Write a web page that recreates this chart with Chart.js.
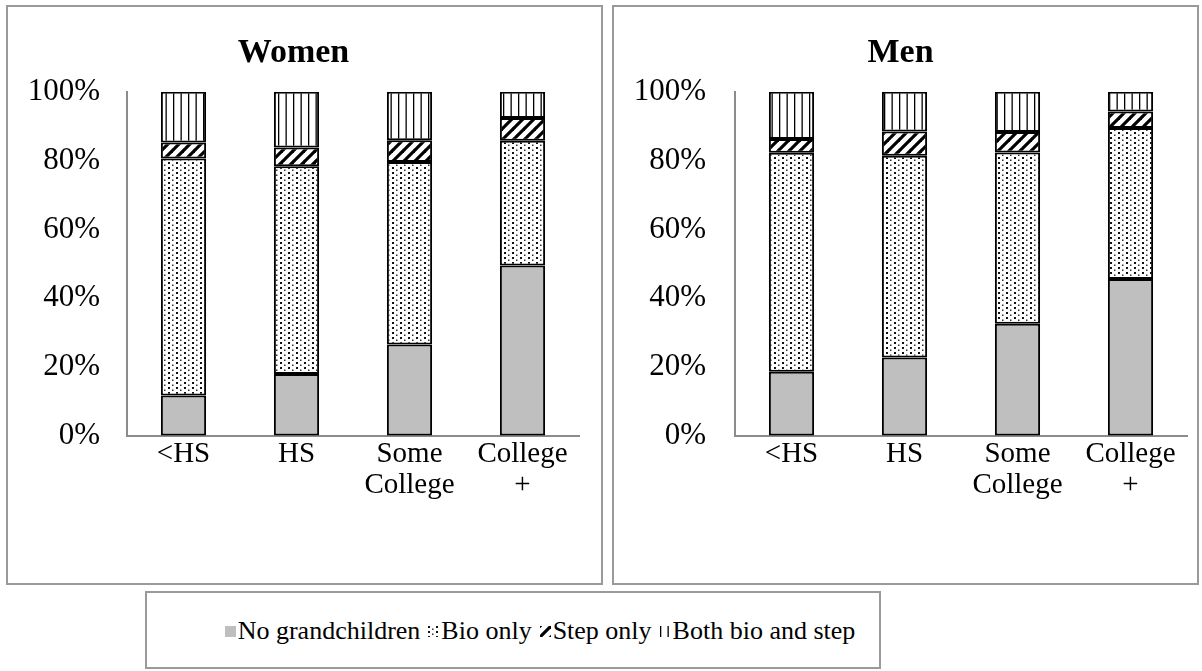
<!DOCTYPE html>
<html>
<head>
<meta charset="utf-8">
<script src="https://cdn.jsdelivr.net/npm/chart.js@4.4.1/dist/chart.umd.min.js"></script>
<style>
  body { margin: 0; background: #fff; width: 1202px; height: 671px; overflow: hidden; position: relative; font-family: "Liberation Serif", "Times New Roman", serif; }
  .panel { position: absolute; box-sizing: border-box; border: 2px solid #9a9a9a; background: #fff; }
  .panel canvas { display: block; }
  #women { left: 6px; top: 5px; width: 597px; height: 580px; }
  #men { left: 612px; top: 5px; width: 587px; height: 580px; }
  #legend { left: 145px; top: 591px; width: 736px; height: 78px; display: flex; align-items: center; justify-content: center; font-size: 26px; color: #000; padding-top: 2px; padding-left: 54px; }
  #legend .item { display: flex; align-items: center; margin: 0 4px; }
  #legend canvas { margin-right: 2px; }
</style>
</head>
<body>
<div class="panel" id="women"><canvas id="womenChart" width="593" height="576"></canvas></div>
<div class="panel" id="men"><canvas id="menChart" width="583" height="576"></canvas></div>
<div class="panel" id="legend"></div>

<script>
// categories and series
const categories = [['<HS'], ['HS'], ['Some', 'College'], ['College', '+']];
const seriesNames = ['No grandchildren', 'Bio only', 'Step only', 'Both bio and step'];
const yTicks = [0, 20, 40, 60, 80, 100];

// Women (percent of group)
const womenNone = [11.8, 18.0, 26.6, 49.5];
const womenBio = [68.8, 60.4, 53.0, 36.3];
const womenStep = [4.7, 5.4, 6.3, 6.6];
const womenBoth = [14.7, 16.2, 14.1, 7.6];

// Men (percent of group)
const menNone = [18.7, 22.8, 32.6, 45.6];
const menBio = [63.6, 58.6, 49.8, 43.9];
const menStep = [4.0, 7.1, 5.9, 4.8];
const menBoth = [13.7, 11.5, 11.7, 5.7];

const serif = "'Liberation Serif', 'Times New Roman', serif";

function makePattern(kind) {
  const c = document.createElement('canvas');
  const g = c.getContext('2d');
  if (kind === 'dots') {
    c.width = 8; c.height = 5;
    g.fillStyle = '#fff'; g.fillRect(0, 0, 8, 5);
    g.fillStyle = '#111'; g.fillRect(0, 0, 2, 2);
    g.fillStyle = '#333'; g.fillRect(4, 2.5, 1.5, 1.5);
  } else if (kind === 'stripes') {
    c.width = 11; c.height = 11;
    g.fillStyle = '#fff'; g.fillRect(0, 0, 11, 11);
    g.strokeStyle = '#000'; g.lineWidth = 3.2;
    [-11, 0, 11].forEach(o => {
      g.beginPath(); g.moveTo(o - 1, 12); g.lineTo(o + 12, -1); g.stroke();
    });
  } else if (kind === 'vlines') {
    c.width = 15; c.height = 4;
    g.fillStyle = '#fff'; g.fillRect(0, 0, 15, 4);
    g.fillStyle = '#000'; g.fillRect(0, 0, 1.3, 4); g.fillRect(7.5, 0, 1.3, 4);
  }
  return g.createPattern(c, 'repeat');
}

const fills = ['#bfbfbf', makePattern('dots'), makePattern('stripes'), makePattern('vlines')];

function buildChart(id, title, values, padRight, yWidth, tickPad) {
  return new Chart(document.getElementById(id), {
    type: 'bar',
    data: {
      labels: categories,
      datasets: seriesNames.map((name, i) => ({
        label: name,
        data: values[i],
        backgroundColor: fills[i],
        borderColor: '#000',
        borderWidth: 2,
        borderSkipped: false,
        barPercentage: 0.4,
        categoryPercentage: 1
      }))
    },
    options: {
      responsive: false,
      animation: false,
      layout: { padding: { left: 0, right: padRight, top: 0, bottom: 0 } },
      plugins: {
        legend: { display: false },
        tooltip: { enabled: false },
        title: {
          display: true,
          text: title,
          color: '#000',
          font: { family: serif, size: 34, weight: 'bold', lineHeight: 1.2 },
          padding: { top: 26, bottom: 18 }
        }
      },
      scales: {
        x: {
          stacked: true,
          grid: { display: true, drawOnChartArea: false, drawTicks: false },
          border: { color: '#8c8c8c', width: 2 },
          ticks: { color: '#000', font: { family: serif, size: 29, lineHeight: 1.1 }, padding: 2, maxRotation: 0, autoSkip: false },
          afterFit: s => { s.height = 147; }
        },
        y: {
          stacked: true,
          min: 0,
          max: 100,
          grid: { display: true, drawOnChartArea: false, drawTicks: false },
          border: { color: '#8c8c8c', width: 2 },
          afterBuildTicks: s => { s.ticks = yTicks.map(v => ({ value: v })); },
          ticks: { color: '#000', font: { family: serif, size: 31 }, padding: tickPad, callback: v => v + '%' },
          afterFit: s => { s.width = yWidth; }
        }
      }
    }
  });
}

buildChart('womenChart', 'Women', [womenNone, womenBio, womenStep, womenBoth], 22, 119, 27);
buildChart('menChart', 'Men', [menNone, menBio, menStep, menBoth], 10, 121, 29);

// legend shared by both panels
const legend = document.getElementById('legend');
seriesNames.forEach((name, i) => {
  const item = document.createElement('span');
  item.className = 'item';
  const icon = document.createElement('canvas');
  icon.width = 11; icon.height = 11;
  const g = icon.getContext('2d');
  g.fillStyle = fills[i];
  g.fillRect(0, 0, 11, 11);
  item.appendChild(icon);
  item.appendChild(document.createTextNode(name));
  legend.appendChild(item);
});
</script>
</body>
</html>
